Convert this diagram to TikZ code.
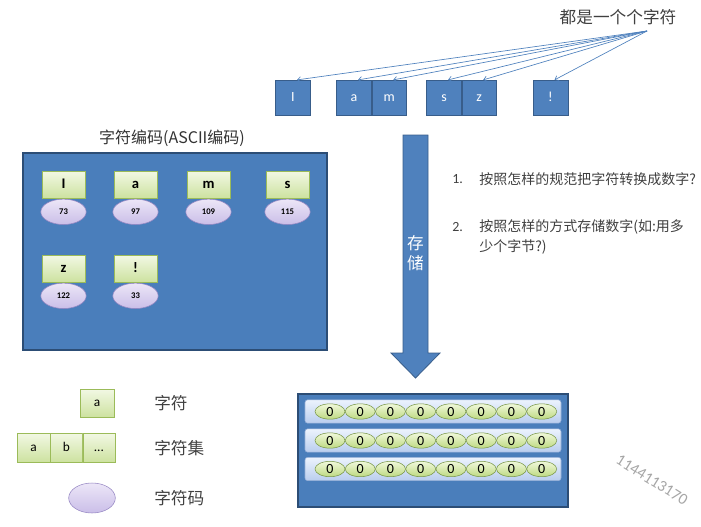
\documentclass[tikz,border=0pt]{standalone}
\usepackage{fontspec}
\setmainfont{Carlito}
\newfontfamily\cjk{Noto Sans CJK SC}
\usetikzlibrary{positioning,shapes.geometric,arrows.meta}
\definecolor{boxblue}{RGB}{79,129,189}
\definecolor{boxline}{RGB}{56,93,138}
\definecolor{panelblue}{RGB}{74,126,187}
\definecolor{panelline}{RGB}{44,77,117}
\definecolor{txtgray}{RGB}{64,64,64}

\begin{document}
\begin{tikzpicture}[x=0.75pt,y=-0.75pt,
	charbox/.style={draw=boxline,fill=boxblue,text=white,minimum width=26pt,minimum height=26pt,inner sep=0pt,text height=1.5ex,text depth=0.3ex,font=\fontsize{10.5}{12}\selectfont},
	greenbox/.style={draw={rgb,255:red,155;green,187;blue,89},top color={rgb,255:red,242;green,248;blue,228},bottom color={rgb,255:red,205;green,226;blue,160},minimum width=32pt,minimum height=20pt,inner sep=0pt,text height=1.5ex,text depth=0.3ex,font=\fontsize{11}{13}\selectfont\bfseries},
	codeoval/.style={ellipse,draw={rgb,255:red,150;green,135;blue,195},top color={rgb,255:red,236;green,230;blue,247},bottom color={rgb,255:red,202;green,190;blue,232},minimum width=34pt,minimum height=19pt,inner sep=0pt,font=\fontsize{6.5}{7}\selectfont\bfseries},
	bitoval/.style={ellipse,draw={rgb,255:red,120;green,150;blue,70},top color={rgb,255:red,240;green,248;blue,218},bottom color={rgb,255:red,190;green,218;blue,130},minimum width=22.5pt,minimum height=11.5pt,inner sep=0pt,font=\fontsize{10.5}{10}\selectfont},
	byterow/.style={draw={rgb,255:red,150;green,175;blue,215},top color={rgb,255:red,236;green,243;blue,253},bottom color={rgb,255:red,185;green,205;blue,238},rounded corners=2pt,minimum width=192pt,minimum height=17.5pt,inner sep=0pt},
	label/.style={text=txtgray,font=\cjk\fontsize{12.5}{15}\selectfont,inner sep=0pt},
	pointer/.style={draw=boxblue,line width=0.5pt,-{Straight Barb[length=2.5pt,width=4pt]}}]
	\useasboundingbox(0,0) rectangle (701,526);

	% top row of characters
	\node[label](each)at(618,17){都是一个个字符};
	\coordinate(src)at(647,31);
	\node[charbox](tI)at(293,97.5){I};
	\node[charbox](ta)at(354,97.5){a};
	\node[charbox,right=0pt of ta](tm){m};
	\node[charbox](ts)at(444,97.5){s};
	\node[charbox,right=0pt of ts](tz){z};
	\node[charbox](tx)at(550.5,97.5){!};
	\foreach \b in {tI,ta,tm,ts,tz,tx}
		\draw[pointer](src)--([xshift=3pt]\b.north);

	% ASCII panel
	\node[label,text=black!80,font=\cjk\fontsize{12}{14}\selectfont](title)at(172,138){字符编码(ASCII编码)};
	\draw[fill=panelblue,draw=panelline,line width=0.8pt](23,153)rectangle(327,350);
	\foreach \n/\c/\v/\x/\y in {gI/I/73/63.5/184.5,ga/a/97/135.5/184.5,gm/m/109/208.5/184.5,gs/s/115/287.5/184.5,gz/z/122/63.5/268.5,gx/!/33/135.5/268.5}{
		\node[greenbox](\n)at(\x,\y){\c};
		\node[codeoval,below=0.6pt of \n](\n o){\v};
	}

	% storing arrow
	\draw[fill=boxblue,draw=boxline,line width=0.6pt](403,135)--(428,135)--(428,353)--(440,353)--(415.5,378)--(391,353)--(403,353)--cycle;
	\node[text=white,align=center,font=\cjk\fontsize{12.5}{15}\selectfont](store)at(415.5,253){存\\储};

	% questions
	\node[label,anchor=west,font=\fontsize{10.5}{13}\selectfont](q1n)at(452,179){1.};
	\node[label,anchor=west,font=\cjk\fontsize{10.5}{13}\selectfont](q1)at(479,179){按照怎样的规范把字符转换成数字?};
	\node[label,anchor=west,font=\fontsize{10.5}{13}\selectfont](q2n)at(452,227){2.};
	\node[label,anchor=north west,align=left,font=\cjk\fontsize{10.5}{15}\selectfont](q2)at(479,219){按照怎样的方式存储数字(如:用多\\少个字节?)};

	% memory
	\draw[fill=panelblue,draw=panelline,line width=0.8pt](298,394)rectangle(568,507);
	\foreach \r/\y in {1/411.5,2/440.5,3/469}{
		\node[byterow](row\r)at(433,\y){};
		\foreach \i in {0,...,7}
			\node[bitoval](b\r\i)at({330+30.25*\i},\y){0};
	}

	% legend
	\node[greenbox,minimum width=25.5pt,minimum height=21pt,font=\fontsize{10}{12}\selectfont](la)at(97,403){a};
	\node[label,anchor=west](lach)at(154,403){字符};
	\node[greenbox,minimum width=24.5pt,minimum height=21.75pt,font=\fontsize{10}{12}\selectfont](sa)at(33.5,447.5){a};
	\node[greenbox,minimum width=24pt,minimum height=21.75pt,font=\fontsize{10}{12}\selectfont,right=0pt of sa](sb){b};
	\node[greenbox,minimum width=24pt,minimum height=21.75pt,font=\fontsize{10}{12}\selectfont,right=0pt of sb](sc){...};
	\node[label,anchor=west](lset)at(154,448){字符集};
	\node[codeoval,minimum width=35pt,minimum height=22.5pt](lo)at(92,498){};
	\node[label,anchor=west](lcode)at(154,498){字符码};

	% watermark
	\node[text=black!35,rotate=-32,font=\fontsize{12}{14}\selectfont](mark)at(652,480){1144113170};
\end{tikzpicture}
\end{document}
